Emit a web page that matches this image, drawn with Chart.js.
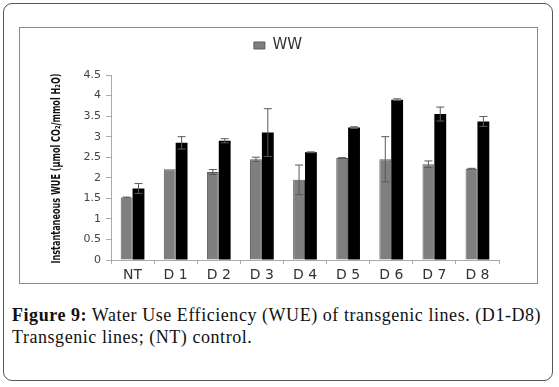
<!DOCTYPE html>
<html>
<head>
<meta charset="utf-8">
<script src="https://cdn.jsdelivr.net/npm/chart.js@4.4.0/dist/chart.umd.min.js"></script>
<style>
  html, body { margin:0; padding:0; background:#fff; width:559px; height:387px; overflow:hidden; }
  #outer { position:absolute; left:3px; top:3px; width:550px; height:378px; border:1.5px solid #555; border-radius:9px; box-sizing:border-box; }
  #box { position:absolute; left:19px; top:27px; width:519px; height:257px; border:1.5px solid #8a8a8a; box-sizing:border-box; }
  #wrap { position:absolute; left:0; top:0; width:516px; height:254px; }
  #cap { position:absolute; left:12px; top:304px; width:545px; font-family:"Liberation Serif", serif; font-size:18px; letter-spacing:0.55px; line-height:22px; color:#111; }
  #cap b { font-weight:bold; }
</style>
</head>
<body>
<div id="outer"></div>
<div id="box"><div id="wrap"><canvas id="c"></canvas></div></div>
<div id="cap"><b>Figure 9:</b> Water Use Efficiency (WUE) of transgenic lines. (D1-D8)<br>Transgenic lines; (NT) control.</div>
<script>
const categories = ["NT", "D 1", "D 2", "D 3", "D 4", "D 5", "D 6", "D 7", "D 8"];
const wwValues = [1.52, 2.21, 2.14, 2.45, 1.95, 2.48, 2.45, 2.33, 2.22];
const wwErrors = [0.01, 0.00, 0.06, 0.05, 0.36, 0.01, 0.55, 0.08, 0.01];
const wsValues = [1.74, 2.85, 2.90, 3.10, 2.62, 3.22, 3.90, 3.55, 3.37];
const wsErrors = [0.12, 0.15, 0.05, 0.58, 0.01, 0.02, 0.02, 0.17, 0.12];
const yTicks = [0, 0.5, 1, 1.5, 2, 2.5, 3, 3.5, 4, 4.5];
const yTitle = 'Instantaneous WUE (µmol CO₂/mmol H₂O)';

const errorBars = {
  id: 'errorBars',
  afterDatasetsDraw(chart) {
    const ctx = chart.ctx;
    const y = chart.scales.y;
    const errs = [wwErrors, wsErrors];
    chart.data.datasets.forEach((ds, di) => {
      const meta = chart.getDatasetMeta(di);
      meta.data.forEach((bar, i) => {
        const v = ds.data[i], e = errs[di][i];
        if (!e) return;
        const x = bar.x;
        const yt = y.getPixelForValue(v + e), yb = y.getPixelForValue(v - e);
        ctx.save();
        ctx.strokeStyle = '#5a5a5a';
        ctx.lineWidth = 1;
        ctx.beginPath();
        ctx.moveTo(x, yt); ctx.lineTo(x, yb);
        ctx.moveTo(x - 4, yt); ctx.lineTo(x + 4, yt);
        ctx.moveTo(x - 4, yb); ctx.lineTo(x + 4, yb);
        ctx.stroke();
        ctx.restore();
      });
    });
  }
};

const yTitlePlugin = {
  id: 'yTitlePlugin',
  afterDraw(chart) {
    const ctx = chart.ctx;
    const a = chart.chartArea;
    const cy = (a.top + a.bottom) / 2 + 1;
    ctx.save();
    ctx.translate(37, cy);
    ctx.rotate(-Math.PI / 2);
    ctx.font = 'bold 12px "DejaVu Sans"';
    ctx.fillStyle = '#111';
    ctx.textAlign = 'center';
    ctx.textBaseline = 'middle';
    ctx.fillText(yTitle, 0, 0, 190);
    ctx.restore();
  }
};

const legendGap = {
  id: 'legendGap',
  beforeInit(chart) {
    const orig = chart.legend.fit;
    chart.legend.fit = function () { orig.bind(chart.legend)(); this.height += 12; };
  },
  afterLayout(chart) {
    chart.legend.left = 0;
    chart.legend.right = chart.width;
    chart.legend.width = chart.width;
  }
};

new Chart(document.getElementById('c'), {
  type: 'bar',
  data: {
    labels: categories,
    datasets: [
      { label: 'WW', data: wwValues, backgroundColor: '#7f7f7f', borderColor: '#5c5c5c', borderWidth: 1, categoryPercentage: 0.55, barPercentage: 1.0 },
      { label: 'WS', data: wsValues, backgroundColor: '#000000', borderColor: '#000000', borderWidth: 0, categoryPercentage: 0.55, barPercentage: 1.0 }
    ]
  },
  options: {
    responsive: true,
    maintainAspectRatio: false,
    animation: false,
    layout: { padding: { left: 0, right: 37, top: 1, bottom: 0 } },
    plugins: {
      legend: {
        display: true,
        labels: {
          filter: (item) => item.datasetIndex === 0,
          boxWidth: 11, boxHeight: 7,
          color: '#333',
          font: { family: 'DejaVu Sans', size: 15 },
          padding: 9
        }
      },
      tooltip: { enabled: false }
    },
    scales: {
      x: {
        grid: { display: true, drawOnChartArea: false, offset: true, tickLength: 4, color: '#aaa' },
        border: { color: '#aaa' },
        ticks: { color: '#333', font: { family: 'DejaVu Sans', size: 14 }, padding: 3 },
        afterFit: (s) => { s.height = 22; }
      },
      y: {
        min: 0, max: 4.5,
        afterBuildTicks: (s) => { s.ticks = yTicks.map(v => ({ value: v })); },
        grid: { display: true, drawOnChartArea: false, tickLength: 5, color: '#aaa' },
        border: { color: '#aaa' },
        ticks: { color: '#444', font: { family: 'DejaVu Sans', size: 11 }, padding: 5, callback: (v) => String(v) },
        title: { display: false },
        afterFit: (s) => { s.width = 91; }
      }
    }
  },
  plugins: [errorBars, legendGap, yTitlePlugin]
});
</script>
</body>
</html>
